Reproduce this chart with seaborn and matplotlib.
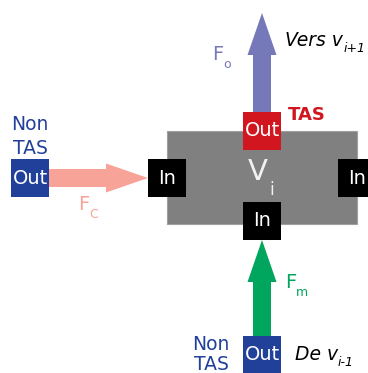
import matplotlib
matplotlib.use("Agg")
import matplotlib.pyplot as plt
from matplotlib.patches import Rectangle, FancyArrow
import seaborn as sns

sns.set_theme(style="white")
plt.rcParams['font.family'] = ['DejaVu Sans']

# boxes: label, x, y, colour (all 38 px square)
box_labels = ["Out", "In", "In", "In", "Out", "Out"]
box_x = [243, 148, 338, 243, 11, 243]
box_y = [112, 159, 159, 202, 159, 336]
box_colors = ["#d2161f", "black", "black", "black", "#21409a", "#21409a"]

# arrows: start (x, y), delta (dx, dy), colour
arrow_start = [(262, 112), (49, 178), (262, 336)]
arrow_delta = [(0, -99), (99, 0), (0, -96)]
arrow_colors = ["#7679b9", "#f8a398", "#00a65d"]

fig = plt.figure(figsize=(3.68, 3.73), dpi=100)
ax = fig.add_axes([0, 0, 1, 1])
ax.set_xlim(0, 368)
ax.set_ylim(373, 0)
ax.axis("off")

# vertex body
ax.add_patch(Rectangle((167, 131), 190, 93, facecolor="#808080", edgecolor="#a0a0a0", lw=0.8))

for (sx, sy), (dx, dy), c in zip(arrow_start, arrow_delta, arrow_colors):
    ax.add_patch(FancyArrow(sx, sy, dx, dy, width=18, head_width=29, head_length=42,
                            length_includes_head=True, color=c, lw=0))

for lab, x, y, c in zip(box_labels, box_x, box_y, box_colors):
    ax.add_patch(Rectangle((x, y), 38, 38, facecolor=c, edgecolor="none"))
    ax.text(x + 19, y + 19, lab, color="white", fontsize=14, ha="center", va="center")

# V_i
ax.text(258, 172, "V", color="#f2f2f2", fontsize=21, ha="center", va="center")
ax.text(272, 190, "i", color="#f2f2f2", fontsize=12, ha="center", va="center")

ax.text(307, 115, "TAS", color="#d2161f", fontsize=13, weight="bold", ha="center", va="center")

blue = "#21409a"
ax.text(30, 125, "Non", color=blue, fontsize=13.5, ha="center", va="center")
ax.text(30, 148, "TAS", color=blue, fontsize=13.5, ha="center", va="center")
ax.text(211, 345, "Non", color=blue, fontsize=13.5, ha="center", va="center")
ax.text(211, 364, "TAS", color=blue, fontsize=13.5, ha="center", va="center")

# flow labels
ax.text(218, 55, "F", color="#7679b9", fontsize=14, ha="center", va="center")
ax.text(227, 65, "o", color="#7679b9", fontsize=9, ha="center", va="center")
ax.text(84, 205, "F", color="#f8a398", fontsize=14, ha="center", va="center")
ax.text(94, 215, "C", color="#f8a398", fontsize=9, ha="center", va="center")
ax.text(291, 283, "F", color="#00a65d", fontsize=14, ha="center", va="center")
ax.text(302, 293, "m", color="#00a65d", fontsize=9, ha="center", va="center")

ax.text(285, 40, "Vers v", color="black", fontsize=13.5, style="italic", ha="left", va="center")
ax.text(344, 49, "i+1", color="black", fontsize=9, style="italic", ha="left", va="center")
ax.text(295, 354, "De v", color="black", fontsize=13.5, style="italic", ha="left", va="center")
ax.text(338, 363, "i-1", color="black", fontsize=9, style="italic", ha="left", va="center")

fig.savefig("out.png", dpi=100, facecolor="white")
